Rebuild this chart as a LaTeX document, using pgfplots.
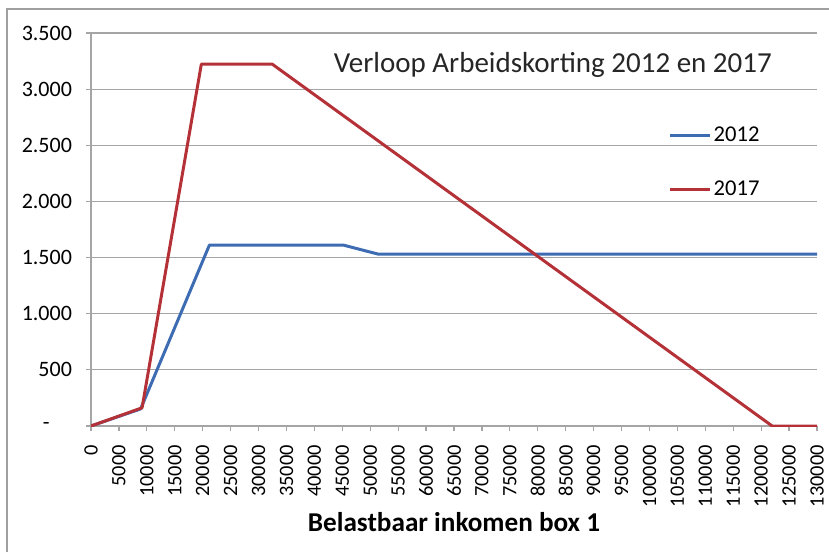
\documentclass[border=0pt]{standalone}
\usepackage{fontspec}
\setmainfont{Carlito}
\usepackage{pgfplots}
\pgfplotsset{compat=1.18}
\definecolor{c2012}{RGB}{62,108,178}
\definecolor{c2017}{RGB}{180,50,55}
\definecolor{gridc}{RGB}{165,165,165}
\begin{document}
\begin{tikzpicture}[x=1pt,y=1pt]
\useasboundingbox (0,0) rectangle (414.5,276);
\draw[gray!75, line width=1pt] (3.5,0) -- (3.5,271.5) -- (414.5,271.5);
\begin{axis}[
  at={(45.5pt,63pt)}, anchor=south west,
  scale only axis, width=363pt, height=196.5pt,
  xmin=0, xmax=130000, ymin=0, ymax=3500,
  axis lines=left, axis line style={gridc, line width=0.6pt, -},
  xtick={0,5000,10000,15000,20000,25000,30000,35000,40000,45000,50000,55000,60000,65000,70000,75000,80000,85000,90000,95000,100000,105000,110000,115000,120000,125000,130000},
  scaled x ticks=false,
  /pgf/number format/assume math mode=true,
  x tick label style={/pgf/number format/.cd, fixed, 1000 sep={}, /tikz/.cd, rotate=90, anchor=east, font=\fontsize{10.2}{12}\selectfont},
  xticklabel shift=3.5pt,
  ytick={0,500,1000,1500,2000,2500,3000,3500},
  yticklabels={-\hphantom{00},500,1.000,1.500,2.000,2.500,3.000,3.500},
  y tick label style={font=\fontsize{11}{13}\selectfont},
  yticklabel shift=3.5pt,
  ymajorgrids, grid style={gridc, line width=0.6pt},
  tick style={gridc, line width=0.6pt},
  tick align=outside, major tick length=2.5pt,
  xlabel={Belastbaar inkomen box 1},
  xlabel style={font=\bfseries\fontsize{13.6}{15}\selectfont, at={(axis description cs:0.5,0)}, anchor=center, yshift=-48pt},
  legend style={at={(axis cs:102300,2346)}, anchor=west, draw=none, fill=none, font=\fontsize{11.3}{13}\selectfont, row sep=14pt, nodes={inner xsep=1pt}},
  legend cell align=left,
  legend image code/.code={\draw[#1, line width=1.5pt] (0pt,0pt) -- (20pt,0pt);},
]
\addplot[c2012, line width=1.5pt, line join=round] coordinates {
  (0,0) (8884,152) (21200,1611) (45200,1611) (51400,1531) (130000,1531)
};
\addlegendentry{2012}
\addplot[c2017, line width=1.5pt, line join=round] coordinates {
  (0,0) (9147,162) (19758,3223) (32444,3223) (121972,0) (130000,0)
};
\addlegendentry{2017}
\node[font=\fontsize{14.5}{16}\selectfont, text=black!85] at (axis cs:82700,3215) {Verloop Arbeidskorting 2012 en 2017};
\end{axis}
\end{tikzpicture}
\end{document}
